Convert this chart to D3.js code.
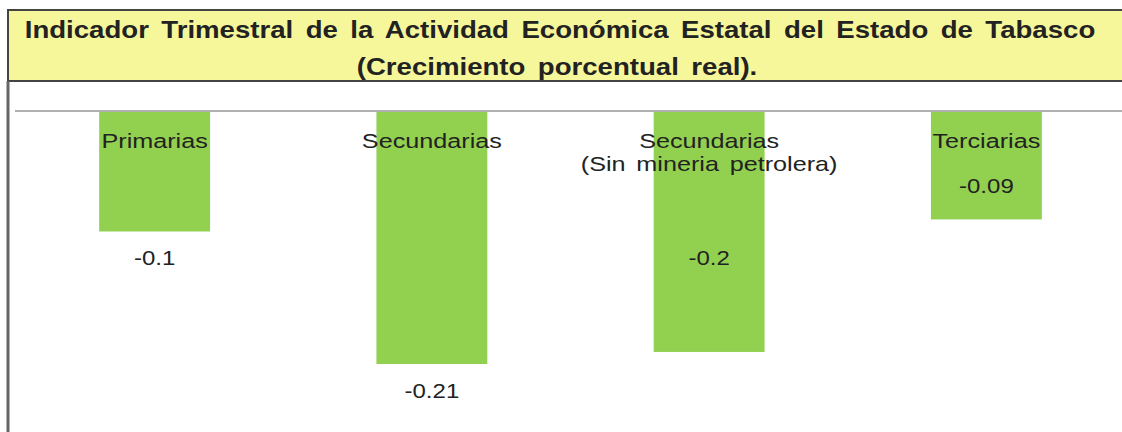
<!DOCTYPE html>
<html>
<head>
<meta charset="utf-8">
<script src="https://cdnjs.cloudflare.com/ajax/libs/d3/7.8.5/d3.min.js"></script>
<style>
  body { margin: 0; background: #fff; }
  svg { display: block; font-family: Arial, "Liberation Sans", sans-serif; }
</style>
</head>
<body>
<svg id="chart" width="1122" height="432"></svg>
<script>

// Data
var categories = ["Primarias", "Secundarias", "Secundarias|(Sin mineria petrolera)", "Terciarias"];
var values = [-0.1, -0.21, -0.2, -0.09];
var valueLabels = ["-0.1", "-0.21", "-0.2", "-0.09"];
var titleLines = [
  "Indicador Trimestral de la Actividad Económica Estatal del Estado de Tabasco",
  "(Crecimiento porcentual real)."
];

var width = 1122, height = 432;
var svg = d3.select("#chart");

// label offsets from the bar end (the original placed some inside, some below)
var labelDy = [34, 34, -87, -26];

var x = d3.scaleBand()
  .domain(d3.range(categories.length))
  .range([16, 1125])
  .paddingInner(0.6)
  .paddingOuter(0.3);

var y = d3.scaleLinear()
  .domain([0, -0.21])
  .range([111, 364]);

// frame
svg.append("rect")
  .attr("x", 8).attr("y", 10)
  .attr("width", 1130).attr("height", 71)
  .attr("fill", "#f6f79a")
  .attr("stroke", "#444")
  .attr("stroke-width", 2);

svg.append("line")
  .attr("x1", 8).attr("x2", 8)
  .attr("y1", 81).attr("y2", height)
  .attr("stroke", "#666")
  .attr("stroke-width", 3);

// title
svg.append("text")
  .attr("transform", "translate(560,38) scale(1.2,1)")
  .attr("text-anchor", "middle")
  .style("font-size", "23px")
  .style("font-weight", "bold")
  .style("word-spacing", "4px")
  .attr("fill", "#222")
  .text(titleLines[0]);

svg.append("text")
  .attr("transform", "translate(557,75) scale(1.2,1)")
  .attr("text-anchor", "middle")
  .style("font-size", "23px")
  .style("font-weight", "bold")
  .style("word-spacing", "4px")
  .attr("fill", "#222")
  .text(titleLines[1]);

// zero line
svg.append("line")
  .attr("x1", 15).attr("x2", width)
  .attr("y1", y(0)).attr("y2", y(0))
  .attr("stroke", "#b0b0b0")
  .attr("stroke-width", 2);

// bars
svg.selectAll("rect.bar")
  .data(values)
  .enter()
  .append("rect")
  .attr("class", "bar")
  .attr("x", (d, i) => x(i))
  .attr("y", y(0) + 1)
  .attr("width", x.bandwidth())
  .attr("height", d => y(d) - y(0) - 1)
  .attr("fill", "#92d050");

// category labels (drawn on top of the bars)
var cat = svg.selectAll("g.cat")
  .data(categories)
  .enter()
  .append("g")
  .attr("class", "cat")
  .attr("transform", (d, i) => `translate(${x(i) + x.bandwidth() / 2}, ${y(0) + 37})`);

cat.each(function(d) {
  var lines = d.split("|");
  var multi = lines.length > 1;
  d3.select(this).selectAll("text")
    .data(lines)
    .enter()
    .append("text")
    .attr("transform", (l, j) => multi
      ? `translate(0, ${j * 23}) scale(1.26,1)`
      : "scale(1.2,1)")
    .attr("text-anchor", "middle")
    .style("font-size", multi ? "20px" : "21px")
    .style("word-spacing", (l, j) => j === 0 ? "0px" : "3px")
    .attr("fill", "#222")
    .text(l => l);
});

// value labels
svg.selectAll("text.val")
  .data(values)
  .enter()
  .append("text")
  .attr("class", "val")
  .attr("transform", (d, i) => `translate(${x(i) + x.bandwidth() / 2}, ${y(d) + labelDy[i]}) scale(1.2,1)`)
  .attr("text-anchor", "middle")
  .style("font-size", "20px")
  .attr("fill", "#222")
  .text((d, i) => valueLabels[i]);

</script>
</body>
</html>
